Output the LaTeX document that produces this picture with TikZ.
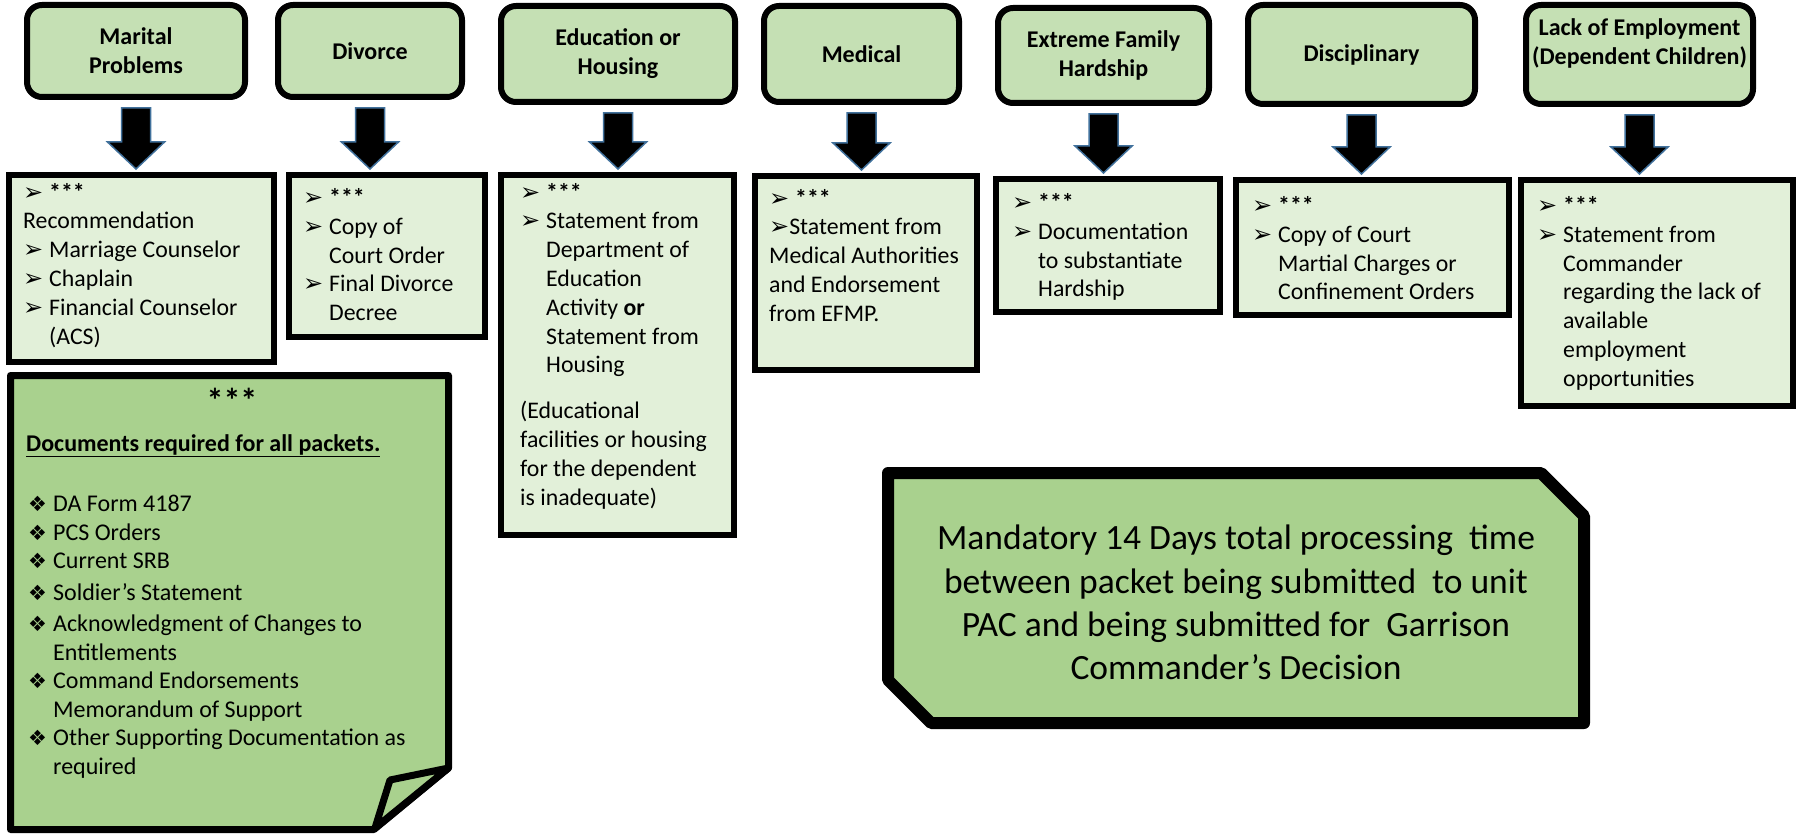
\documentclass[tikz,border=0pt]{standalone}
\usepackage{fontspec}
\setmainfont{Carlito}
\newfontfamily\dingfont{DejaVu Sans}
\usetikzlibrary{calc}

\definecolor{catgreen}{HTML}{C5E0B4}
\definecolor{listgreen}{HTML}{E2F0D9}
\definecolor{notegreen}{HTML}{A9D18E}
\definecolor{arrowblue}{HTML}{41719C}

\newcommand{\arrbul}{\makebox[26pt][l]{\dingfont\fontsize{24}{20}\selectfont ➢}}
\newcommand{\arrhang}{\hspace*{26pt}}
\newcommand{\diabul}{\makebox[25pt][l]{\dingfont\fontsize{21}{20}\selectfont ❖}}
\newcommand{\diahang}{\hspace*{25pt}}

\tikzset{
	catbox/.style={draw=black, line width=6pt, rounded corners=15pt, fill=catgreen,
		align=center, inner sep=0pt, font=\fontsize{24}{29}\selectfont\bfseries},
	listbox/.style={draw=black, line width=6pt, fill=listgreen, inner sep=0pt},
	listtext/.style={anchor=north west, inner sep=0pt, align=left,
		font=\fontsize{23.8}{28.8}\selectfont, execute at begin node=\strut},
	blockarrow/.style={fill=black, draw=arrowblue, line width=1.5pt},
}

\begin{document}
\begin{tikzpicture}[x=1pt,y=-1pt]
	\useasboundingbox (0,0) rectangle (1797,834);
	
	\node[catbox, minimum width=218pt, minimum height=92pt] (marital) at (136,51) {Marital\\Problems};
	\node[catbox, minimum width=184pt, minimum height=92pt] (divorce) at (370,51) {Divorce};
	\node[catbox, minimum width=234pt, minimum height=96pt] (education) at (618,54) {Education or\\Housing};
	\node[catbox, minimum width=195pt, minimum height=96pt] (medical) at (861.5,54) {Medical};
	\node[catbox, minimum width=211pt, minimum height=95pt] (extreme) at (1103.5,55.5) {Extreme Family\\Hardship};
	\node[catbox, minimum width=227pt, minimum height=99pt] (disciplinary) at (1361.5,54.5) {Disciplinary};
	\node[catbox, minimum width=227pt, minimum height=99pt, text depth=25pt] (lack) at (1639.5,54.5) {Lack of Employment\\(Dependent Children)};
	
	\node[listbox, minimum width=265pt, minimum height=187pt] (maritalL) at (141.5,268.5) {};
	\node[listbox, minimum width=196pt, minimum height=162pt] (divorceL) at (387,256) {};
	\node[listbox, minimum width=233pt, minimum height=360pt] (educationL) at (617.5,355) {};
	\node[listbox, minimum width=222pt, minimum height=194pt] (medicalL) at (866,273) {};
	\node[listbox, minimum width=224pt, minimum height=133pt] (extremeL) at (1108,245.5) {};
	\node[listbox, minimum width=273pt, minimum height=135pt] (disciplinaryL) at (1372.5,247.5) {};
	\node[listbox, minimum width=272pt, minimum height=226pt] (lackL) at (1657,293) {};
	
	\foreach \hd/\bx in {marital/maritalL, divorce/divorceL, education/educationL, medical/medicalL,
		extreme/extremeL, disciplinary/disciplinaryL, lack/lackL}
		\draw[blockarrow] let \p1=(\hd.south), \p2=(\bx.north) in
			(\x1-14.5pt,\y1-8pt) -- (\x1-14.5pt,\y2+30pt) -- (\x1-28.5pt,\y2+30pt) -- (\x1,\y2+3pt)
			-- (\x1+28.5pt,\y2+30pt) -- (\x1+14.5pt,\y2+30pt) -- (\x1+14.5pt,\y1-8pt) -- cycle;
	
	\node[listtext] (maritalT) at (23,182.8) {\arrbul\textbf{***}\\Recommendation\\\arrbul Marriage Counselor\\
		\arrbul Chaplain\\\arrbul Financial Counselor\\\arrhang(ACS)};
	\node[listtext] (divorceT) at (303,188.3) {\arrbul\textbf{***}\\\arrbul Copy of\\\arrhang Court Order\\
		\arrbul Final Divorce\\\arrhang Decree};
	\node[listtext] (educationT) at (520,182.8) {\arrbul\textbf{***}\\\arrbul Statement from\\\arrhang Department of\\
		\arrhang Education\\\arrhang Activity \textbf{or}\\\arrhang Statement from\\\arrhang Housing\\[17pt]
		(Educational\\facilities or housing\\for the dependent\\is inadequate)};
	\node[listtext] (medicalT) at (769,188.8) {\arrbul\textbf{***}\\{\dingfont\fontsize{24}{20}\selectfont ➢}Statement from\\
		Medical Authorities\\and Endorsement\\from EFMP.};
	\node[listtext] (extremeT) at (1012,193.3) {\arrbul\textbf{***}\\\arrbul Documentation\\\arrhang to substantiate\\
		\arrhang Hardship};
	\node[listtext] (disciplinaryT) at (1252,196.3) {\arrbul\textbf{***}\\\arrbul Copy of Court\\
		\arrhang Martial Charges or\\\arrhang Confinement Orders};
	\node[listtext] (lackT) at (1537,196.3) {\arrbul\textbf{***}\\\arrbul Statement from\\\arrhang Commander\\
		\arrhang regarding the lack of\\\arrhang available\\\arrhang employment\\\arrhang opportunities};
	
	\draw[line width=7pt, fill=notegreen, line join=round] (10.5,375.5) -- (448.5,375.5) -- (448.5,768)
		-- (374,829.5) -- (10.5,829.5) -- cycle;
	\draw[line width=7pt, fill=notegreen, line join=round] (448.5,768) -- (390,780) -- (375,828) -- cycle;
	\node[anchor=base, inner sep=0pt, font=\fontsize{34}{36}\selectfont\bfseries] (noteStars) at (232,412) {***};
	\node[anchor=base west, inner sep=0pt, font=\fontsize{24}{28.5}\selectfont\bfseries] (noteTitle) at (26,451)
		{\underline{Documents required for all packets.}};
	\node[listtext, font=\fontsize{24}{28.5}\selectfont] (noteList) at (28,495) {\diabul DA Form 4187\\\diabul PCS Orders\\
		\diabul Current SRB\\[3pt]\diabul Soldier’s Statement\\[3pt]\diabul Acknowledgment of Changes to\\
		\diahang Entitlements\\\diabul Command Endorsements\\\diahang Memorandum of Support\\
		\diabul Other Supporting Documentation as\\\diahang required};
	
	\draw[line width=12pt, fill=notegreen, line join=round] (888,473) -- (1541,473) -- (1584,516) -- (1584,723)
		-- (931,723) -- (888,680) -- cycle;
	\node[align=center, inner sep=0pt, font=\fontsize{35.5}{43.3}\selectfont] (banner) at (1236,602.5)
		{Mandatory 14 Days total processing\ \ time\\between packet being submitted\ \ to unit\\
		PAC and being submitted for\ \ Garrison\\Commander’s Decision};
\end{tikzpicture}
\end{document}
